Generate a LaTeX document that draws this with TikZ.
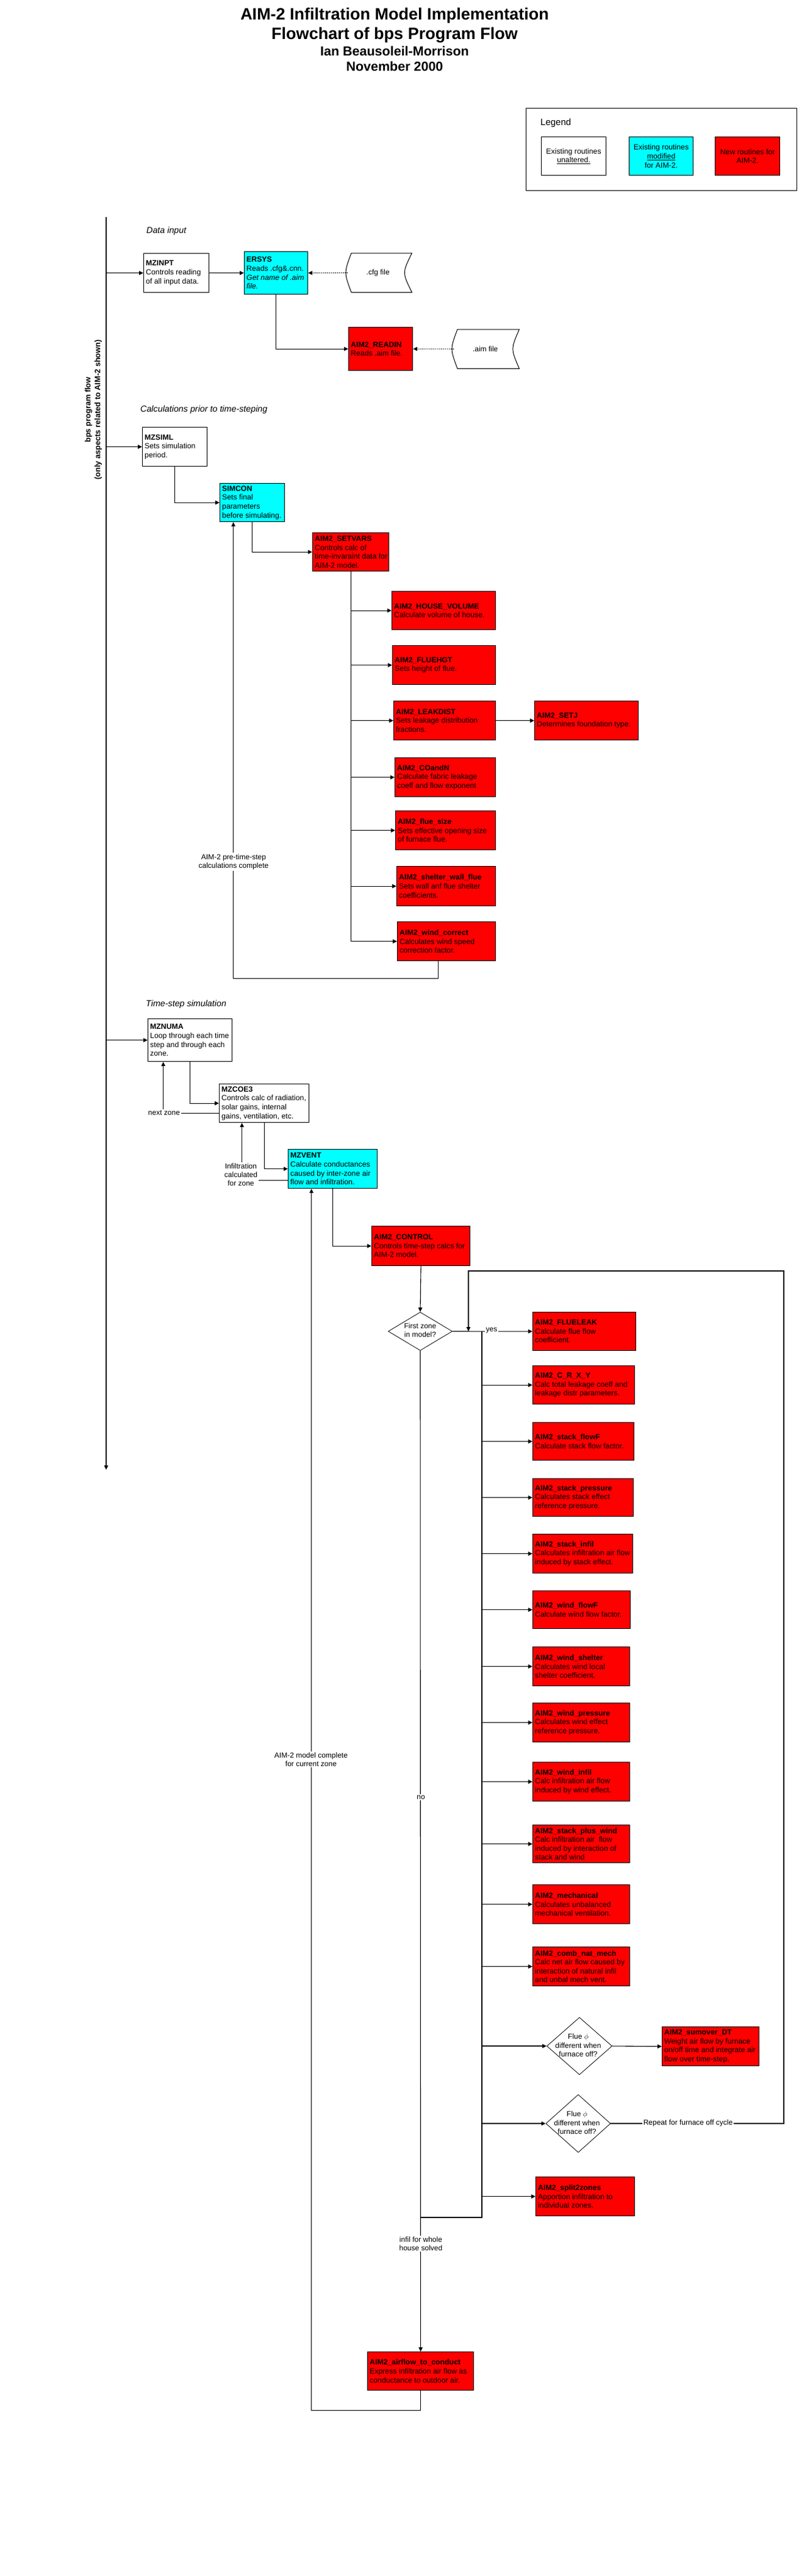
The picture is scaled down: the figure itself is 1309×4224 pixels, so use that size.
\documentclass[tikz,border=0pt]{standalone}
\usepackage{fontspec}
\setmainfont{Liberation Sans}
\usetikzlibrary{arrows.meta,shapes.geometric,calc}
\definecolor{boxred}{HTML}{FF0000}
\definecolor{boxcyan}{HTML}{00FFFF}
\tikzset{
 box/.style={draw=black,line width=1.2pt,rectangle,inner sep=0pt,anchor=north west},
 btxt/.style={inner sep=0pt,align=left,anchor=west,font=\fontsize{12.3}{14.6}\selectfont},
 ctxt/.style={inner sep=0pt,align=center,font=\fontsize{12.3}{14.6}\selectfont},
 lbl/.style={fill=white,inner sep=2pt,align=center,font=\fontsize{12}{14}\selectfont},
 conn/.style={draw=black,line width=1.1pt},
 arr/.style={conn,-{Triangle[length=7pt,width=6.5pt]}},
 dotarr/.style={arr,dash pattern=on 1.6pt off 1.6pt},
 dmd/.style={draw=black,line width=0.8pt,diamond,inner sep=0pt,fill=white},
 sect/.style={anchor=west,inner sep=0pt,font=\fontsize{14.3}{17}\selectfont\itshape},
 filebox/.style={inner sep=0pt,anchor=north west},
 filedraw/.style={draw=black,line width=1pt},
}
\newcommand{\fbx}[7]{%
 \node[box,fill=#6,minimum width=#4pt,minimum height=#5pt] (#1) at (#2,#3) {};
 \node[btxt] (#1t) at ([xshift=4pt]#1.west) {#7};}
\begin{document}
\begin{tikzpicture}[x=1pt,y=-1pt]
\fill[white] (0,0) rectangle (1309,4224);
\useasboundingbox (0,0) rectangle (1309,4224);

% ---------- title ----------
\node[font=\fontsize{27}{32}\selectfont\bfseries,anchor=base,inner sep=0pt] (t1) at (647,32) {AIM-2 Infiltration Model Implementation};
\node[font=\fontsize{27}{32}\selectfont\bfseries,anchor=base,inner sep=0pt] (t2) at (647,64) {Flowchart of bps Program Flow};
\node[font=\fontsize{21.5}{25}\selectfont\bfseries,anchor=base,inner sep=0pt] (t3) at (647,91) {Ian Beausoleil-Morrison};
\node[font=\fontsize{21.5}{25}\selectfont\bfseries,anchor=base,inner sep=0pt] (t4) at (647,116) {November 2000};

% ---------- legend ----------
\node[box,minimum width=444pt,minimum height=135pt] (legend) at (862,177) {};
\node[anchor=west,inner sep=0pt,font=\fontsize{15}{18}\selectfont] (legendt) at (886,202) {Legend};
\node[box,fill=white,minimum width=106pt,minimum height=63pt] (lw) at (887,224) {};
\node[ctxt] (lwt) at (lw.center) {Existing routines\\\underline{unaltered.}};
\node[box,fill=boxcyan,minimum width=105pt,minimum height=63pt] (lc) at (1031,224) {};
\node[ctxt] (lct) at (lc.center) {Existing routines\\\underline{modified}\\for AIM-2.};
\node[box,fill=boxred,minimum width=106pt,minimum height=63pt] (lr) at (1172,224) {};
\node[ctxt] (lrt) at (lr.center) {New routines for\\AIM-2.};

% ---------- side label ----------
\node[rotate=90,align=center,inner sep=0pt,font=\fontsize{12.8}{16}\selectfont\bfseries] (side) at (153,672) {bps program flow\\(only aspects related to AIM-2 shown)};

% ---------- section headers ----------
\node[sect] (s1) at (240,379) {Data input};
\node[sect] (s2) at (230,672) {Calculations prior to time-steping};
\node[sect] (s3) at (239,1647) {Time-step simulation};

% ---------- data input ----------
\fbx{mzinpt}{235}{415}{107}{64}{white}{\textbf{MZINPT}\\Controls reading\\of all input data.}
\fbx{ersys}{400}{412}{104}{70}{boxcyan}{\textbf{ERSYS}\\Reads .cfg\&.cnn.\\\textit{Get name of .aim}\\\textit{file.}}
\fbx{readin}{571}{536}{105}{71}{boxred}{\textbf{AIM2\_READIN}\\Reads .aim file.}

\node[filebox,minimum width=99pt,minimum height=64pt] (cfg) at (576,415) {};
\draw[filedraw] (cfg.north west) .. controls ([xshift=-12pt]cfg.west) .. (cfg.south west) -- (cfg.south east) .. controls ([xshift=-16pt]cfg.east) .. (cfg.north east) -- cycle;
\node[inner sep=0pt,font=\fontsize{12}{14}\selectfont] (cfgt) at ([xshift=-6pt]cfg.center) {.cfg file};
\node[filebox,minimum width=101pt,minimum height=64pt] (aim) at (750,540) {};
\draw[filedraw] (aim.north west) .. controls ([xshift=-12pt]aim.west) .. (aim.south west) -- (aim.south east) .. controls ([xshift=-14pt]aim.east) .. (aim.north east) -- cycle;
\node[inner sep=0pt,font=\fontsize{12}{14}\selectfont] (aimt) at ([xshift=-5pt]aim.center) {.aim file};

% ---------- pre time-step ----------
\fbx{mzsiml}{233}{700}{106}{64}{white}{\textbf{MZSIML}\\Sets simulation\\period.}
\fbx{simcon}{360}{792}{106}{63}{boxcyan}{\textbf{SIMCON}\\Sets final\\parameters\\before simulating.}
\fbx{setvars}{512}{873}{125}{63}{boxred}{\textbf{AIM2\_SETVARS}\\Controls calc of\\time-invaraint data for\\AIM-2 model.}
\fbx{hv}{642}{969}{170}{63}{boxred}{\textbf{AIM2\_HOUSE\_VOLUME}\\Calculate volume of house.}
\fbx{fh}{643}{1058}{169}{64}{boxred}{\textbf{AIM2\_FLUEHGT}\\Sets height of flue.}
\fbx{ld}{645}{1149}{167}{64}{boxred}{\textbf{AIM2\_LEAKDIST}\\Sets leakage distribution\\fractions.}
\fbx{setj}{876}{1149}{170}{64}{boxred}{\textbf{AIM2\_SETJ}\\Determines foundation type.}
\fbx{co}{647}{1242}{165}{64}{boxred}{\textbf{AIM2\_COandN}\\Calculate fabric leakage\\coeff and flow exponent}
\fbx{fs}{648}{1329}{164}{64}{boxred}{\textbf{AIM2\_flue\_size}\\Sets effective opening size\\of furnace flue.}
\fbx{swf}{650}{1420}{162}{65}{boxred}{\textbf{AIM2\_shelter\_wall\_flue}\\Sets wall anf flue shelter\\coefficients.}
\fbx{wc}{651}{1511}{161}{64}{boxred}{\textbf{AIM2\_wind\_correct}\\Calculates wind speed\\correction factor.}

% ---------- time-step ----------
\fbx{mznuma}{242}{1670}{138}{70}{white}{\textbf{MZNUMA}\\Loop through each time\\step and through each\\zone.}
\fbx{mzcoe}{359}{1777}{147}{63}{white}{\textbf{MZCOE3}\\Controls calc of radiation,\\solar gains, internal\\gains, ventilation, etc.}
\fbx{mzvent}{472}{1884}{146}{64}{boxcyan}{\textbf{MZVENT}\\Calculate conductances\\caused by inter-zone air\\flow and infiltration.}
\fbx{control}{609}{2010}{161}{65}{boxred}{\textbf{AIM2\_CONTROL}\\Controls time-step calcs for\\AIM-2 model.}

\fbx{fl}{873}{2151}{169}{63}{boxred}{\textbf{AIM2\_FLUELEAK}\\Calculate flue flow\\coefficient.}
\fbx{crxy}{873}{2239}{167}{63}{boxred}{\textbf{AIM2\_C\_R\_X\_Y}\\Calc total leakage coeff and\\leakage distr parameters.}
\fbx{sff}{873}{2332}{166}{62}{boxred}{\textbf{AIM2\_stack\_flowF}\\Calculate stack flow factor.}
\fbx{sp}{873}{2424}{165}{62}{boxred}{\textbf{AIM2\_stack\_pressure}\\Calculates stack effect\\reference pressure.}
\fbx{si}{873}{2515}{164}{64}{boxred}{\textbf{AIM2\_stack\_infil}\\Calculates infiltration air flow\\induced by stack effect.}
\fbx{wff}{873}{2608}{160}{62}{boxred}{\textbf{AIM2\_wind\_flowF}\\Calculate wind flow factor.}
\fbx{ws}{873}{2700}{159}{64}{boxred}{\textbf{AIM2\_wind\_shelter}\\Calculates wind local\\shelter coefficient.}
\fbx{wp}{873}{2792}{159}{64}{boxred}{\textbf{AIM2\_wind\_pressure}\\Calculates wind effect\\reference pressure.}
\fbx{wi}{873}{2889}{159}{64}{boxred}{\textbf{AIM2\_wind\_infil}\\Calc infiltration air flow\\induced by wind effect.}
\fbx{spw}{873}{2992}{159}{62}{boxred}{\textbf{AIM2\_stack\_plus\_wind}\\Calc infiltration air\ \ flow\\induced by interaction of\\stack and wind}
\fbx{mech}{873}{3090}{159}{64}{boxred}{\textbf{AIM2\_mechanical}\\Calculates unbalanced\\mechanical ventilation.}
\fbx{cnm}{873}{3192}{159}{64}{boxred}{\textbf{AIM2\_comb\_nat\_mech}\\Calc net air flow caused by\\interaction of natural infil\\and unbal mech vent.}
\fbx{sdt}{1085}{3323}{159}{64}{boxred}{\textbf{AIM2\_sumover\_DT}\\Weight air flow by furnace\\on/off time and integrate air\\flow over time-step.}
\fbx{s2z}{878}{3569}{162}{64}{boxred}{\textbf{AIM2\_split2zones}\\Apportion infiltration to\\individual zones.}
\fbx{atc}{602}{3856}{174}{63}{boxred}{\textbf{AIM2\_airflow\_to\_conduct}\\Express infiltration air flow as\\conductance to outdoor air.}

\node[dmd,minimum width=105pt,minimum height=63pt] (d1) at (689,2183) {};
\node[ctxt,font=\fontsize{12}{14}\selectfont] (d1t) at (689,2181) {First zone\\in model?};
\node[dmd,minimum width=107pt,minimum height=94pt] (d2) at (950,3355) {};
\node[ctxt,font=\fontsize{12}{14.5}\selectfont] (d2t) at (948,3354) {Flue $\phi$\\different when\\furnace off?};
\node[dmd,minimum width=106pt,minimum height=95pt] (d3) at (948,3482) {};
\node[ctxt,font=\fontsize{12}{14.5}\selectfont] (d3t) at (946,3481) {Flue $\phi$\\different when\\furnace off?};

% ---------- connectors ----------
\coordinate (mT) at (174,356);
\coordinate (mB) at (174,2410);
\draw[arr] (mT) -- (mB);
\draw[arr] (mT |- mzinpt.west) -- (mzinpt.west);
\draw[arr] (mT |- mzsiml.west) -- (mzsiml.west);
\draw[arr] (mT |- mznuma.west) -- (mznuma.west);

\draw[arr] (mzinpt.east) -- (ersys.west);
\draw[dotarr] ([xshift=-6pt]cfg.west) -- (ersys.east);
\draw[arr] (ersys.south) |- (readin.west);
\draw[dotarr] ([xshift=-6pt]aim.west) -- (readin.east);

\draw[arr] (mzsiml.south) |- (simcon.west);
\draw[arr] (simcon.south) |- (setvars.west);
\foreach \b in {hv,fh,ld,co,fs,swf,wc} \draw[arr] (setvars.south) |- (\b.west);
\draw[arr] (ld.east) -- (setj.west);
\draw[arr] ([xshift=-14pt]wc.south) -- ++(0,28) -| ([xshift=-31pt]simcon.south);
\node[lbl] (l1) at (383,1413) {AIM-2 pre-time-step\\calculations complete};

\draw[arr] (mznuma.south) |- (mzcoe.west);
\draw[arr] ([yshift=-16.5pt]mzcoe.west) -| ([xshift=-44pt]mznuma.south);
\node[lbl] (l2) at (269,1825) {next zone};
\draw[arr] (mzcoe.south) |- (mzvent.west);
\draw[arr] ([yshift=-19pt]mzvent.west) -| ([xshift=-36.5pt]mzcoe.south);
\node[lbl] (l3) at (395,1926) {Infiltration\\calculated\\for zone};
\draw[arr] (mzvent.south) |- (control.west);
\draw[arr] (control.south) -- (d1.north);

\draw[arr] (d1.east) -- (fl.west);
\node[lbl,inner sep=1.5pt] (l4) at (806,2181) {yes};
\coordinate (bT) at (790,2183);
\coordinate (bB) at (790,3636);
\draw[conn] (bT) -- (bB) -- (bB -| d1.south);
\foreach \b in {crxy,sff,sp,si,wff,ws,wp,wi,spw,mech,cnm,d2,d3,s2z} \draw[arr] (bT) |- (\b.west);
\draw[arr] (d2.east) -- (sdt.west);

\draw[arr] (d1.south) -- (atc.north);
\node[lbl] (l5) at (690,2947) {no};
\node[lbl] (l6) at (690,3679) {infil for whole\\house solved};

\coordinate (rpR) at (1285,3482);
\coordinate (rpT) at (768,2084);
\draw[arr] (d3.east) -- (d3.east -| rpR) |- (rpT) -- (rpT |- bT);
\node[lbl] (l7) at (1128,3481) {Repeat for furnace off cycle};

\draw[arr] (atc.south) -- ++(0,32) -| ([xshift=-35pt]mzvent.south);
\node[lbl] (l8) at (510,2885) {AIM-2 model complete\\for current zone};
\end{tikzpicture}
\end{document}
